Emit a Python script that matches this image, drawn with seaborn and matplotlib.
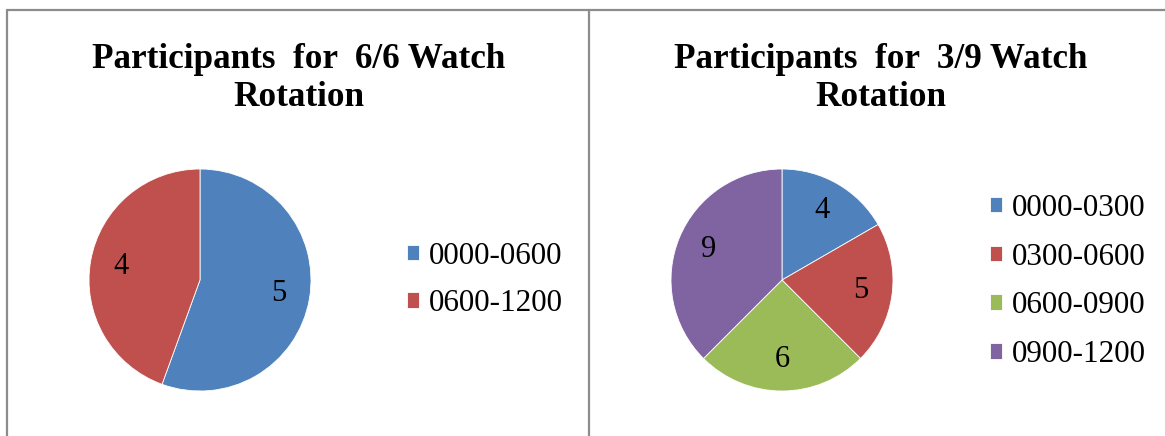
import matplotlib
matplotlib.use("Agg")
import matplotlib.pyplot as plt
from matplotlib.lines import Line2D
import seaborn as sns

# ---- data ----
left_title = "Participants  for  6/6 Watch\nRotation"
left_labels = ["0000-0600", "0600-1200"]
left_values = [5, 4]

right_title = "Participants  for  3/9 Watch\nRotation"
right_labels = ["0000-0300", "0300-0600", "0600-0900", "0900-1200"]
right_values = [4, 5, 6, 9]

colors = ["#4F81BD", "#C0504D", "#9BBB59", "#8064A2"]

sns.set_theme(style="white")
plt.rcParams["font.family"] = ["Liberation Serif", "DejaVu Serif"]
plt.rcParams["text.color"] = "black"

W, H = 1165, 436
fig = plt.figure(figsize=(W / 100, H / 100), dpi=100)
fig.patch.set_facecolor("white")

def px_axes(cx, cy, r):
    return fig.add_axes([(cx - r) / W, (H - cy - r) / H, 2 * r / W, 2 * r / H])

def draw_pie(ax, values, cols):
    total = sum(values)
    wedges, _, autotexts = ax.pie(
        values, colors=cols, startangle=90, counterclock=False,
        autopct=lambda p: f"{round(p * total / 100):d}", pctdistance=0.72,
        wedgeprops=dict(linewidth=0.6, edgecolor="white"),
        textprops=dict(fontsize=22, color="black"),
    )
    ax.set_xlim(-1, 1)
    ax.set_ylim(-1, 1)
    ax.set_aspect("equal")
    ax.axis("off")
    return wedges

axL = px_axes(200, 280, 111)
wL = draw_pie(axL, left_values, colors[:2])
axR = px_axes(782, 280, 111)
wR = draw_pie(axR, right_values, colors)

# legends
legL = fig.legend(wL, left_labels, loc="center left", bbox_to_anchor=(407 / W, 1 - 280 / H),
                  frameon=False, fontsize=22.4, handlelength=0.4, handleheight=0.4,
                  handletextpad=0.3, labelspacing=0.6, borderpad=0, borderaxespad=0)
legR = fig.legend(wR, right_labels, loc="center left", bbox_to_anchor=(990 / W, 1 - 281.5 / H),
                  frameon=False, fontsize=22.4, handlelength=0.4, handleheight=0.4,
                  handletextpad=0.3, labelspacing=0.64, borderpad=0, borderaxespad=0)
for leg in (legL, legR):
    for t in leg.get_texts():
        t.set_color("black")

# titles
fig.text(298.5 / W, 1 - 106 / H, left_title, ha="center", va="baseline",
         fontsize=25.3, fontweight="bold", linespacing=1.22, color="black")
fig.text(881 / W, 1 - 106 / H, right_title, ha="center", va="baseline",
         fontsize=25.3, fontweight="bold", linespacing=1.22, color="black")

# panel borders
border = dict(color="#8C8C8C", linewidth=1.6, transform=fig.transFigure)
fig.add_artist(Line2D([7 / W, 1.0], [1 - 10 / H, 1 - 10 / H], **border))
fig.add_artist(Line2D([7 / W, 7 / W], [0, 1 - 10 / H], **border))
fig.add_artist(Line2D([589 / W, 589 / W], [0, 1 - 10 / H], **border))

fig.savefig("out.png", dpi=100, facecolor="white")
